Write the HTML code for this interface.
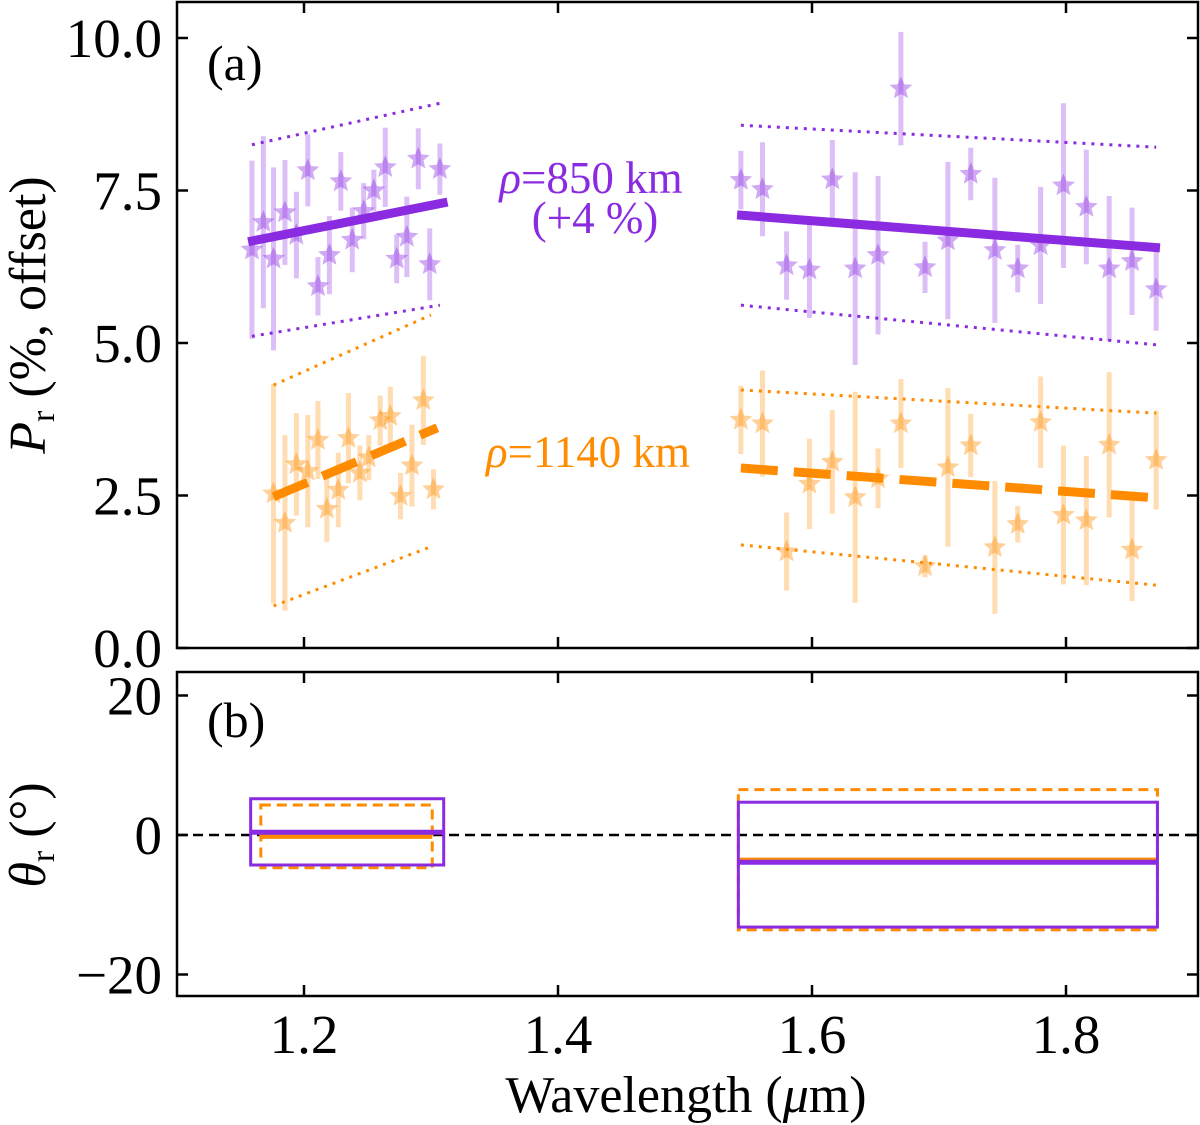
<!DOCTYPE html>
<html><head><meta charset="utf-8">
<style>
html,body{margin:0;padding:0;background:#fff;}
svg{display:block;font-family:"Liberation Serif",serif;}
</style></head>
<body>
<svg id="chart" width="1200" height="1125" viewBox="0 0 1200 1125" xmlns="http://www.w3.org/2000/svg">
  <g id="gA"></g>
  <g id="gB"></g>
  <text x="207" y="80" font-size="50">(a)</text>
  <text x="207" y="737" font-size="50">(b)</text>
  <text x="591" y="193" font-size="45" fill="#8a2be2" text-anchor="middle"><tspan font-style="italic">ρ</tspan>=850 km</text>
  <text x="595" y="233" font-size="45" fill="#8a2be2" text-anchor="middle">(+4 %)</text>
  <text x="588" y="467" font-size="45" fill="#ff8c00" text-anchor="middle"><tspan font-style="italic">ρ</tspan>=1140 km</text>
  <text transform="translate(45,315) rotate(-90)" font-size="52" text-anchor="middle"><tspan font-style="italic">P</tspan><tspan font-size="34" dy="9">r</tspan><tspan dy="-9"> (%, offset)</tspan></text>
  <text transform="translate(45,835) rotate(-90)" font-size="52" text-anchor="middle"><tspan font-style="italic">θ</tspan><tspan font-size="34" dy="9">r</tspan><tspan dy="-9"> (°)</tspan></text>
  <text x="686" y="1112" font-size="52" text-anchor="middle">Wavelength (<tspan font-style="italic">μ</tspan>m)</text>
</svg>
<script>
// ---- data ----
const xTicks = [1.2, 1.4, 1.6, 1.8];
const xTickLabels = ["1.2", "1.4", "1.6", "1.8"];
const yTicksA = [0, 2.5, 5, 7.5, 10];
const yTickLabelsA = ["0.0", "2.5", "5.0", "7.5", "10.0"];
const yTicksB = [-20, 0, 20];
const yTickLabelsB = ["\u221220", "0", "20"];

const purpleLeftX = [1.159,1.168,1.176,1.185,1.194,1.203,1.211,1.220,1.229,1.238,1.247,1.255,1.264,1.273,1.281,1.290,1.299,1.307];
const purpleLeftY = [6.53,6.98,6.38,7.14,6.77,7.83,5.93,6.44,7.65,6.69,7.16,7.50,7.88,6.38,6.74,8.02,6.29,7.85];
const purpleLeftErr = [1.46,1.41,1.50,0.86,0.71,0.59,0.48,0.64,0.48,0.53,0.46,0.34,0.65,0.40,0.66,0.50,0.59,0.42];

const orangeLeftX = [1.176,1.185,1.194,1.203,1.211,1.218,1.227,1.235,1.244,1.251,1.260,1.268,1.276,1.285,1.294,1.302];
const orangeLeftY = [2.53,2.05,3.01,2.90,3.41,2.28,2.59,3.44,2.87,3.12,3.73,3.80,2.49,2.99,4.06,2.60];
const orangeLeftErr = [1.80,1.44,0.84,0.92,0.64,0.54,0.61,0.74,0.45,0.37,0.41,0.48,0.38,0.67,0.73,0.33];

const rightX = [1.544,1.561,1.580,1.598,1.616,1.634,1.652,1.670,1.689,1.707,1.725,1.744,1.762,1.780,1.798,1.816,1.834,1.852,1.871];
const purpleRightY = [7.67,7.52,6.27,6.20,7.68,6.22,6.44,9.17,6.24,6.68,7.77,6.52,6.22,6.60,7.58,7.23,6.22,6.34,5.88];
const purpleRightErr = [0.48,0.77,0.56,0.79,0.65,1.58,1.30,0.93,0.42,1.29,0.43,1.19,0.39,0.96,1.35,0.94,1.19,0.88,0.68];
const orangeRightY = [3.74,3.68,1.58,2.69,3.05,2.47,2.78,3.68,1.34,2.96,3.32,1.65,2.03,3.70,2.18,2.09,3.33,1.61,3.08];
const orangeRightErr = [0.56,0.87,0.64,0.74,0.85,1.73,0.49,0.73,0.18,1.30,0.52,1.09,0.30,0.75,1.14,1.06,1.19,0.84,0.81];

// fit lines: [x0, x1, y0, y1]
const purpleLeftFit = [1.156, 1.313, 6.66, 7.31];
const purpleLeftUpper = [1.159, 1.307, 8.25, 8.93];
const purpleLeftLower = [1.159, 1.307, 5.11, 5.62];
const orangeLeftFit = [1.176, 1.305, 2.48, 3.61];
const orangeLeftUpper = [1.176, 1.300, 4.31, 5.46];
const orangeLeftLower = [1.176, 1.300, 0.69, 1.66];
const purpleRightFit = [1.541, 1.874, 7.10, 6.56];
const purpleRightUpper = [1.544, 1.871, 8.57, 8.21];
const purpleRightLower = [1.544, 1.871, 5.62, 4.97];
const orangeRightFit = [1.544, 1.865, 2.95, 2.47];
const orangeRightUpper = [1.544, 1.871, 4.23, 3.85];
const orangeRightLower = [1.544, 1.871, 1.69, 1.03];

// panel b boxes: [x0, x1, top, bottom, mid]
const purpleLeftBox = [1.158, 1.310, 5.2, -4.3, 0.4];
const orangeLeftBox = [1.166, 1.301, 4.3, -4.7, -0.2];
const purpleRightBox = [1.542, 1.872, 4.7, -13.2, -3.9];
const orangeRightBox = [1.542, 1.872, 6.5, -13.6, -3.6];

// ---- scales ----
const X0 = 177, X1 = 1198;
const xs = v => X0 + (v - 1.1) * 1270;
const yA = v => 648 - v * 61;
const yB = v => 835 - v * 6.975;
const NS = "http://www.w3.org/2000/svg";
const PURPLE = "#8a2be2", ORANGE = "#ff8c00";
function mk(tag, attrs, parent) {
  const e = document.createElementNS(NS, tag);
  for (const k in attrs) e.setAttribute(k, attrs[k]);
  parent.appendChild(e);
  return e;
}
const gA = document.getElementById("gA");
const gB = document.getElementById("gB");

function starPath(cx, cy, R) {
  const r = R * 0.45; let d = "";
  for (let i = 0; i < 10; i++) {
    const a = -Math.PI / 2 + i * Math.PI / 5;
    const rr = i % 2 ? r : R;
    d += (i ? "L" : "M") + (cx + rr * Math.cos(a)).toFixed(1) + "," + (cy + rr * Math.sin(a)).toFixed(1);
  }
  return d + "Z";
}
function series(xArr, yArr, eArr, color, name) {
  for (let i = 0; i < xArr.length; i++) {
    const x = xs(xArr[i]);
    const eb = mk("line", {x1: x, x2: x, y1: yA(yArr[i] + eArr[i]), y2: yA(yArr[i] - eArr[i]), stroke: color, "stroke-width": 5, "stroke-opacity": 0.3}, gA);
    
    
    const st = mk("path", {d: starPath(x, yA(yArr[i]), 12), fill: color, "fill-opacity": 0.4}, gA);
    
    
  }
}
function fitLine(f, color, w, dash, name) {
  const attrs = {x1: xs(f[0]), x2: xs(f[1]), y1: yA(f[2]), y2: yA(f[3]), stroke: color, "stroke-width": w};
  if (dash) attrs["stroke-dasharray"] = dash;
  const l = mk("line", attrs, gA);
  
  
}

series(purpleLeftX, purpleLeftY, purpleLeftErr, PURPLE, "purple-left");
series(orangeLeftX, orangeLeftY, orangeLeftErr, ORANGE, "orange-left");
series(rightX, purpleRightY, purpleRightErr, PURPLE, "purple-right");
series(rightX, orangeRightY, orangeRightErr, ORANGE, "orange-right");

fitLine(purpleLeftFit, PURPLE, 9, null, "purple-left-fit");
fitLine(purpleRightFit, PURPLE, 9, null, "purple-right-fit");
fitLine(orangeLeftFit, ORANGE, 9, "37,16", "orange-left-fit");
fitLine(orangeRightFit, ORANGE, 9, "37,16", "orange-right-fit");
[[purpleLeftUpper, PURPLE, "purple-left-upper"], [purpleLeftLower, PURPLE, "purple-left-lower"],
 [orangeLeftUpper, ORANGE, "orange-left-upper"], [orangeLeftLower, ORANGE, "orange-left-lower"],
 [purpleRightUpper, PURPLE, "purple-right-upper"], [purpleRightLower, PURPLE, "purple-right-lower"],
 [orangeRightUpper, ORANGE, "orange-right-upper"], [orangeRightLower, ORANGE, "orange-right-lower"]]
 .forEach(a => fitLine(a[0], a[1], 3, "3,6", a[2] + "-bound"));

// panel b
const zl = mk("line", {x1: X0, x2: X1, y1: yB(0), y2: yB(0), stroke: "#000", "stroke-width": 2.5, "stroke-dasharray": "10,6"}, gB);


function box(b, color, dash, name) {
  const attrs = {x: xs(b[0]), y: yB(b[2]), width: xs(b[1]) - xs(b[0]), height: yB(b[3]) - yB(b[2]), fill: "none", stroke: color, "stroke-width": 3};
  if (dash) attrs["stroke-dasharray"] = dash;
  const r = mk("rect", attrs, gB);
  
  
  const m = mk("line", {x1: xs(b[0]), x2: xs(b[1]), y1: yB(b[4]), y2: yB(b[4]), stroke: color, "stroke-width": 5}, gB);
  
  
}
box(orangeLeftBox, ORANGE, "10,6", "orange-left");
box(orangeRightBox, ORANGE, "10,6", "orange-right");
box(purpleLeftBox, PURPLE, null, "purple-left");
box(purpleRightBox, PURPLE, null, "purple-right");

// frames & ticks
function frame(g, top, bot, yTicks, yLabels, ys, name) {
  const f = mk("rect", {x: X0, y: top, width: X1 - X0, height: bot - top, fill: "none", stroke: "#000", "stroke-width": 2.5}, g);
  
  
  yTicks.forEach((v, i) => {
    const y = ys(v);
    mk("line", {x1: X0, x2: X0 + 11, y1: y, y2: y, stroke: "#000", "stroke-width": 2.5}, g);
    mk("line", {x1: X1 - 11, x2: X1, y1: y, y2: y, stroke: "#000", "stroke-width": 2.5}, g);
    const t = mk("text", {x: 162, y: y + 19, "font-size": 55, "text-anchor": "end"}, g);
    t.textContent = yLabels[i];
    
    
  });
  xTicks.forEach(v => {
    const x = xs(v);
    mk("line", {x1: x, x2: x, y1: top, y2: top + 11, stroke: "#000", "stroke-width": 2.5}, g);
    mk("line", {x1: x, x2: x, y1: bot - 11, y2: bot, stroke: "#000", "stroke-width": 2.5}, g);
  });
}
frame(gA, 2, 648, yTicksA, yTickLabelsA, yA, "panel-a");
frame(gB, 672, 996, yTicksB, yTickLabelsB, yB, "panel-b");
xTicks.forEach((v, i) => {
  const t = mk("text", {x: xs(v), y: 1053, "font-size": 55, "text-anchor": "middle"}, gB);
  t.textContent = xTickLabels[i];
  
  
});
</script>
</body></html>
